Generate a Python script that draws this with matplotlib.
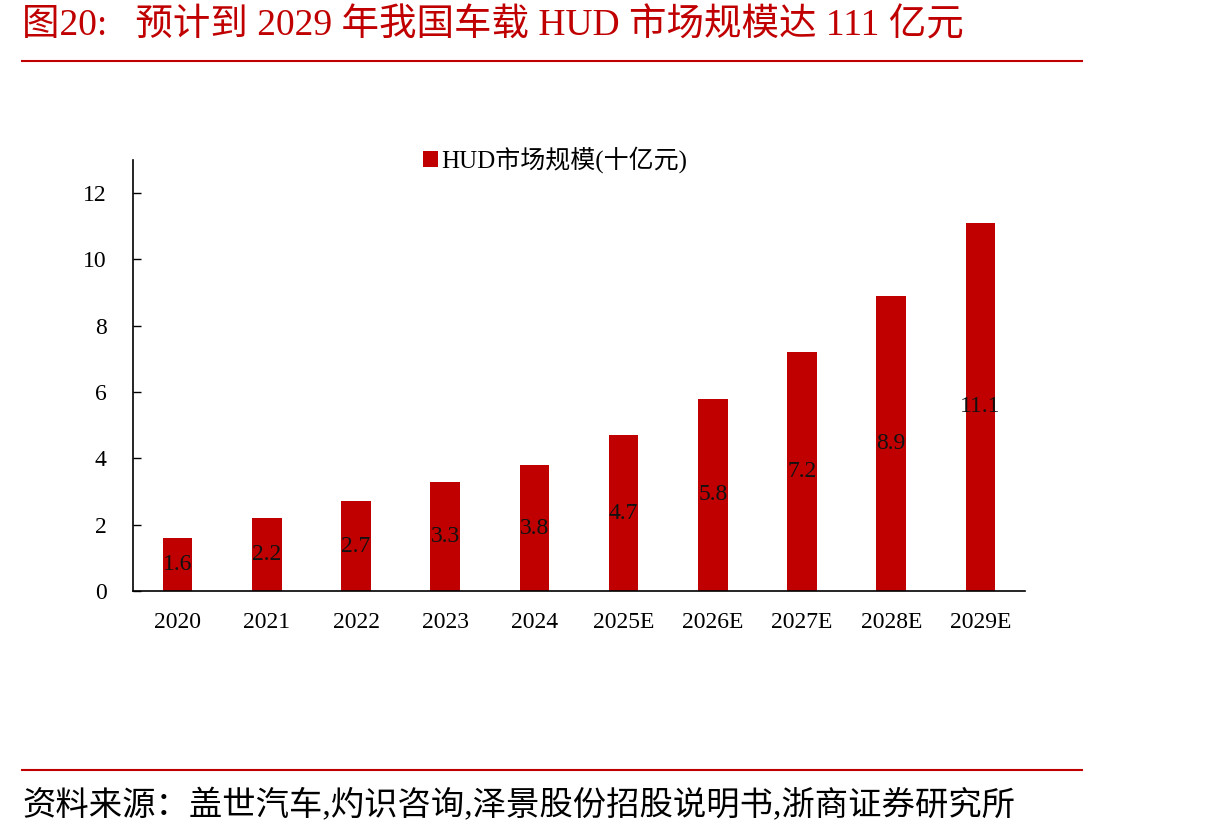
#!/usr/bin/env python3
import matplotlib
matplotlib.use('Agg')
import matplotlib.pyplot as plt
from matplotlib.lines import Line2D

plt.rcParams['font.family'] = ['Liberation Serif', 'Noto Sans CJK SC']

years = ['2020', '2021', '2022', '2023', '2024', '2025E', '2026E', '2027E', '2028E', '2029E']
market = [1.6, 2.2, 2.7, 3.3, 3.8, 4.7, 5.8, 7.2, 8.9, 11.1]
series_name = 'HUD市场规模(十亿元)'
title = '图20:   预计到 2029 年我国车载 HUD 市场规模达 111 亿元'
source = '资料来源：盖世汽车,灼识咨询,泽景股份招股说明书,浙商证券研究所'

red = '#C00000'

fig = plt.figure(figsize=(12.1, 8.38), dpi=100)
ax = fig.add_axes([133/1210, 1 - 591/838, (1025-133)/1210, (591-160)/838])

x = range(len(years))
bars = ax.bar(x, market, width=0.33, color=red, label=series_name)
for xi, v in zip(x, market):
    ax.text(xi, v/2, f'{v}', ha='center', va='center', fontsize=17, color='#111111')

ax.set_xlim(-0.5, len(years) - 0.5)
ax.set_ylim(0, 13)
ax.set_yticks([0, 2, 4, 6, 8, 10, 12])
ax.set_xticks(list(x))
ax.set_xticklabels(years)
ax.tick_params(axis='y', direction='in', length=6, width=1, labelsize=17, pad=19)
ax.tick_params(axis='x', length=0, labelsize=17, pad=15)
for s in ['top', 'right']:
    ax.spines[s].set_visible(False)
for s in ['left', 'bottom']:
    ax.spines[s].set_color('black')
    ax.spines[s].set_linewidth(1.2)

fig.legend(handles=[bars], labels=[series_name], loc='center',
           bbox_to_anchor=(555/1210, 1 - 160/838), frameon=False, fontsize=18,
           handlelength=0.6, handleheight=0.6, handletextpad=0.15)

# title and rules
fig.text(22/1210, 1 - 26/838, title, color=red, fontsize=27, va='center', ha='left')
fig.add_artist(Line2D([22/1210, 1082/1210], [1 - 61/838, 1 - 61/838], color=red, lw=1.5))
fig.add_artist(Line2D([22/1210, 1082/1210], [1 - 770/838, 1 - 770/838], color=red, lw=1.5))
fig.text(22/1210, 1 - 806/838, source, color='black', fontsize=24, va='center', ha='left')

fig.savefig('out.png', dpi=100)
